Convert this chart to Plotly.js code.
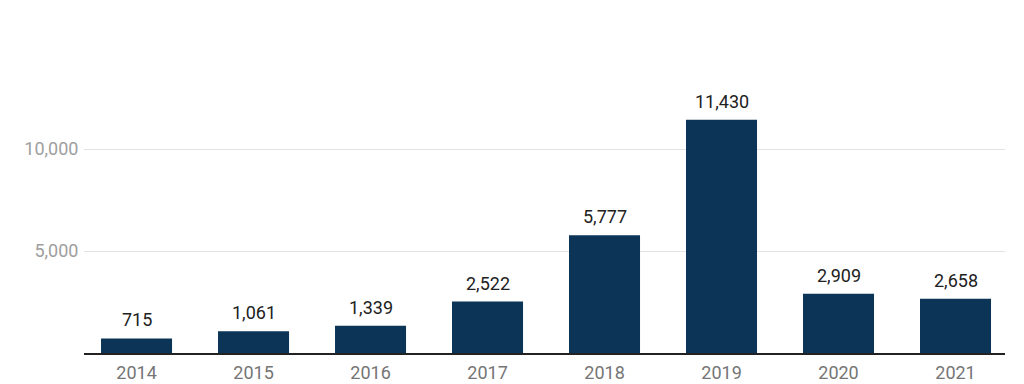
<!DOCTYPE html>
<html>
<head>
<meta charset="utf-8">
<script src="https://cdn.plot.ly/plotly-3.0.1.min.js"></script>
<style>html,body{margin:0;padding:0;background:#fff;}#chart{width:1024px;height:384px;}</style>
</head>
<body>
<div id="chart"></div>
<script>
const years = ['2014','2015','2016','2017','2018','2019','2020','2021'];
const values = [715, 1061, 1339, 2522, 5777, 11430, 2909, 2658];
const yTickVals = [5000, 10000];
const yTickText = ['5,000', '10,000'];

const labels = values.map(v => v.toLocaleString('en-US'));
const xs = years.map((_, i) => i);

const trace = {
  type: 'bar',
  x: xs,
  y: values,
  marker: {color: '#0b3457'},
  hoverinfo: 'none'
};

const annotations = values.map((v, i) => ({
  x: xs[i], y: v, xref: 'x', yref: 'y',
  text: labels[i], showarrow: false,
  xanchor: 'center', yanchor: 'bottom', yshift: 6,
  font: {family: 'Roboto, sans-serif', size: 18, color: '#212121'}
}));

const layout = {
  width: 1024, height: 384,
  margin: {l: 84, r: 19, t: 50, b: 31, pad: 0},
  paper_bgcolor: '#ffffff', plot_bgcolor: '#ffffff',
  bargap: 0.393,
  showlegend: false,
  font: {family: 'Roboto, sans-serif'},
  annotations: annotations,
  xaxis: {
    range: [-0.449, 7.423],
    tickmode: 'array',
    tickvals: xs,
    ticktext: years,
    showgrid: false,
    zeroline: false,
    showline: true,
    linecolor: '#222222',
    linewidth: 1.5,
    ticks: 'outside',
    ticklen: 3,
    tickcolor: 'rgba(0,0,0,0)',
    tickfont: {family: 'Roboto, sans-serif', size: 18, color: '#757575'},
    fixedrange: true
  },
  yaxis: {
    range: [0, 14853],
    tickmode: 'array',
    tickvals: yTickVals,
    ticktext: yTickText,
    showgrid: true,
    gridcolor: '#e3e3e3',
    gridwidth: 1,
    zeroline: false,
    showline: false,
    ticks: 'outside',
    ticklen: 1,
    tickcolor: 'rgba(0,0,0,0)',
    tickfont: {family: 'Roboto, sans-serif', size: 18, color: '#9e9e9e'},
    fixedrange: true
  }
};

Plotly.newPlot('chart', [trace], layout, {displayModeBar: false, staticPlot: true});
</script>
</body>
</html>
